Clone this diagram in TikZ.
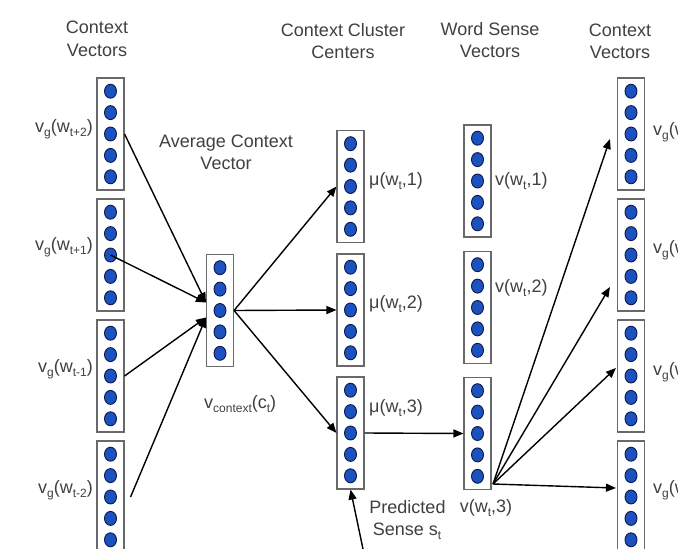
\documentclass[tikz,border=0pt]{standalone}
\usepackage{fontspec}
\setmainfont{Liberation Sans}
\usetikzlibrary{arrows.meta,shapes.geometric,calc}
\definecolor{dotfill}{RGB}{28,82,192}
\definecolor{dotline}{RGB}{12,25,70}
\definecolor{txt}{RGB}{64,64,64}
\definecolor{boxline}{RGB}{105,105,105}
\newcommand{\vecbox}[3]{%
  \node[vbox] (#1) at (#2,#3) {};
  \foreach \i in {1,...,5}{\node[vdot] (#1-\i) at (#2,{#3+(\i-3)*21.4}) {};}
}
\newcommand{\sbs}[1]{\raisebox{-4pt}{\fontsize{12}{12}\selectfont #1}}
\tikzset{
  vbox/.style={draw=boxline, line width=1.1pt, fill=white, minimum width=27pt, minimum height=112pt, inner sep=0pt},
  vdot/.style={ellipse, draw=dotline, fill=dotfill, line width=0.9pt, minimum width=12pt, minimum height=14pt, inner sep=0pt},
  hdr/.style={text=txt, font=\fontsize{18}{22}\selectfont, inner sep=0pt},
  lbl/.style={text=txt, font=\fontsize{18}{22}\selectfont, inner sep=0pt},
  arr/.style={line width=1.4pt, -{Triangle[length=10pt,width=8pt]}}
}
\begin{document}
\begin{tikzpicture}[x=1pt,y=-1pt]
\clip (0,0) rectangle (678,549);
\fill[white] (0,0) rectangle (678,549);
% headers
\node[hdr, anchor=base] (h1a) at (97,33) {Context};
\node[hdr, anchor=base] (h1b) at (97,56) {Vectors};
\node[hdr, anchor=base] (h2a) at (343,36) {Context Cluster};
\node[hdr, anchor=base] (h2b) at (343,58) {Centers};
\node[hdr, anchor=base] (h3a) at (490,35) {Word Sense};
\node[hdr, anchor=base] (h3b) at (490,57) {Vectors};
\node[hdr, anchor=base] (h4a) at (620,36) {Context};
\node[hdr, anchor=base] (h4b) at (620,58) {Vectors};
\node[hdr, anchor=base] (h5a) at (226,147) {Average Context};
\node[hdr, anchor=base] (h5b) at (226,169) {Vector};
% left context vectors
\vecbox{L1}{110.5}{134}
\vecbox{L2}{110.5}{255}
\vecbox{L3}{110.5}{376}
\vecbox{L4}{110.5}{497}
% average
\vecbox{A}{220}{310.5}
% cluster centers
\vecbox{C1}{350.5}{186.5}
\vecbox{C2}{350.5}{310}
\vecbox{C3}{350.5}{433}
% word sense vectors
\vecbox{W1}{477.5}{181}
\vecbox{W2}{477.5}{307.5}
\vecbox{W3}{477.5}{433.5}
% right context vectors
\vecbox{R1}{631}{134}
\vecbox{R2}{631}{255}
\vecbox{R3}{631}{376}
\vecbox{R4}{631}{497}
% labels
\node[lbl, anchor=base east] (lv1) at (93,132) {v\sbs{g}(w\sbs{t+2})};
\node[lbl, anchor=base east] (lv2) at (93,250) {v\sbs{g}(w\sbs{t+1})};
\node[lbl, anchor=base east] (lv3) at (93,372) {v\sbs{g}(w\sbs{t-1})};
\node[lbl, anchor=base east] (lv4) at (93,493) {v\sbs{g}(w\sbs{t-2})};
\node[lbl, anchor=base west] (lvc) at (204,408) {v\sbs{context}(c\sbs{t})};
\node[lbl, anchor=base west] (lm1) at (369,185) {μ(w\sbs{t},1)};
\node[lbl, anchor=base west] (lm2) at (369,308) {μ(w\sbs{t},2)};
\node[lbl, anchor=base west] (lm3) at (369,412) {μ(w\sbs{t},3)};
\node[lbl, anchor=base west] (lw1) at (495,185) {v(w\sbs{t},1)};
\node[lbl, anchor=base west] (lw2) at (495,292) {v(w\sbs{t},2)};
\node[lbl, anchor=base] (lw3) at (486,512) {v(w\sbs{t},3)};
\node[lbl, anchor=base] (lp1) at (407.5,513) {Predicted};
\node[lbl, anchor=base] (lp2) at (407,535) {Sense s\sbs{t}};
\node[lbl, anchor=base west] (lr1) at (653,135) {v\sbs{g}(w\sbs{t+2})};
\node[lbl, anchor=base west] (lr2) at (653,253) {v\sbs{g}(w\sbs{t+1})};
\node[lbl, anchor=base west] (lr3) at (653,375) {v\sbs{g}(w\sbs{t-1})};
\node[lbl, anchor=base west] (lr4) at (653,493) {v\sbs{g}(w\sbs{t-2})};
% coordinates
\coordinate (ain1) at ($(A.west)+(0,-8)$);
\coordinate (ain2) at ($(A.west)+(0,7)$);
\coordinate (l4out) at ($(L4.east)+(6,0)$);
\coordinate (bot) at (363,549);
\coordinate (fan) at (493,484);
\coordinate (r1in) at ($(R1.west)+(-7,5)$);
\coordinate (r2in) at ($(R2.west)+(-7,32)$);
\coordinate (r3in) at ($(R3.west)+(-1,-8)$);
\coordinate (r4in) at ($(R4.west)+(-1,-9)$);
% connectors
\draw[arr] (L1.east) -- (ain1);
\draw[arr] (L2-3.center) -- (ain1);
\draw[arr] (L3.east) -- (ain2);
\draw[arr] (l4out) -- (ain2);
\draw[arr] (A.east) -- (C1.west);
\draw[arr] (A.east) -- (C2.west);
\draw[arr] (A.east) -- (C3.west);
\draw[arr] (C3.east) -- (W3.west);
\draw[arr] (bot) -- (C3.south);
\draw[arr] (fan) -- (r1in);
\draw[arr] (fan) -- (r2in);
\draw[arr] (fan) -- (r3in);
\draw[arr] (fan) -- (r4in);
\end{tikzpicture}
\end{document}
